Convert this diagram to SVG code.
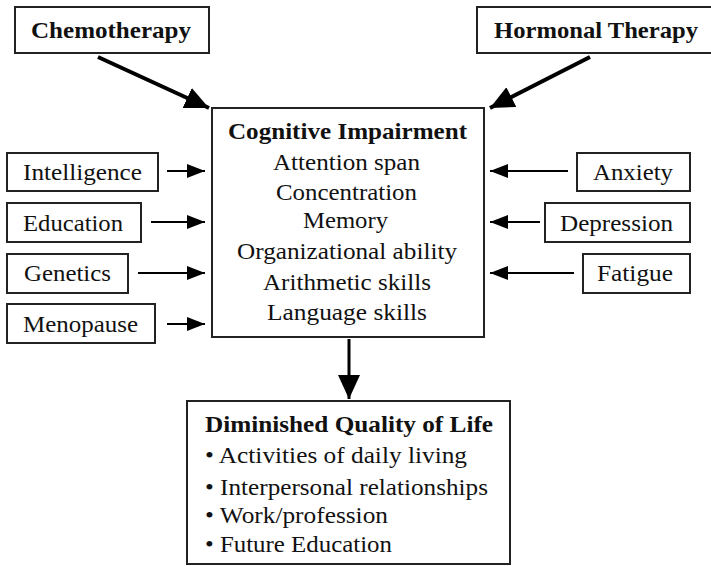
<svg xmlns="http://www.w3.org/2000/svg" width="711" height="566" viewBox="0 0 711 566">
<style>
.box{fill:#fff;stroke:#222;stroke-width:2}
text{font-family:"Liberation Serif","Times New Roman",serif;font-size:23px;fill:#111}
.b{font-weight:bold}
.c{stroke:#000;fill:none}
</style>
<defs>
<marker id="ah" markerUnits="userSpaceOnUse" markerWidth="20" markerHeight="16" refX="18" refY="7" orient="auto"><path d="M0,0 L18,7 L0,14 Z" fill="#000"/></marker>
<marker id="ahb" markerUnits="userSpaceOnUse" markerWidth="26" markerHeight="24" refX="24" refY="11" orient="auto"><path d="M0,0 L24,11 L0,22 Z" fill="#000"/></marker>
</defs>
<rect width="711" height="566" fill="#fff"/>
<g id="connectors">
<line class="c" x1="98" y1="57" x2="209" y2="108" stroke-width="4" marker-end="url(#ahb)"/>
<line class="c" x1="590" y1="57" x2="490" y2="108" stroke-width="4" marker-end="url(#ahb)"/>
<line class="c" x1="167" y1="171" x2="205" y2="171" stroke-width="2" marker-end="url(#ah)"/>
<line class="c" x1="151" y1="222" x2="205" y2="222" stroke-width="2" marker-end="url(#ah)"/>
<line class="c" x1="138" y1="273" x2="205" y2="273" stroke-width="2" marker-end="url(#ah)"/>
<line class="c" x1="167" y1="324" x2="205" y2="324" stroke-width="2" marker-end="url(#ah)"/>
<line class="c" x1="568" y1="171" x2="490" y2="171" stroke-width="2" marker-end="url(#ah)"/>
<line class="c" x1="540" y1="222" x2="490" y2="222" stroke-width="2" marker-end="url(#ah)"/>
<line class="c" x1="574" y1="273" x2="490" y2="273" stroke-width="2" marker-end="url(#ah)"/>
<line class="c" x1="349" y1="339" x2="349" y2="399" stroke-width="3" marker-end="url(#ahb)"/>
</g>
<g id="chemotherapy">
<rect class="box" x="15" y="7" width="194" height="46"/>
<text class="b" x="31" y="38" textLength="160" lengthAdjust="spacingAndGlyphs">Chemotherapy</text>
</g>
<g id="hormonal-therapy">
<rect class="box" x="477" y="7" width="240" height="46"/>
<text class="b" x="494" y="38" textLength="204" lengthAdjust="spacingAndGlyphs">Hormonal Therapy</text>
</g>
<g id="cognitive-impairment">
<rect class="box" x="212" y="108" width="272" height="229"/>
<text class="b" x="228" y="139" textLength="239" lengthAdjust="spacingAndGlyphs">Cognitive Impairment</text>
<text x="273" y="170" textLength="147" lengthAdjust="spacingAndGlyphs">Attention span</text>
<text x="276" y="200" textLength="141" lengthAdjust="spacingAndGlyphs">Concentration</text>
<text x="303" y="228" textLength="85" lengthAdjust="spacingAndGlyphs">Memory</text>
<text x="237" y="259" textLength="220" lengthAdjust="spacingAndGlyphs">Organizational ability</text>
<text x="263" y="290" textLength="168" lengthAdjust="spacingAndGlyphs">Arithmetic skills</text>
<text x="267" y="320" textLength="160" lengthAdjust="spacingAndGlyphs">Language skills</text>
</g>
<g id="intelligence">
<rect class="box" x="7" y="153" width="151" height="38"/>
<text x="23" y="180" textLength="119" lengthAdjust="spacingAndGlyphs">Intelligence</text>
</g>
<g id="education">
<rect class="box" x="7" y="203" width="134" height="39"/>
<text x="23" y="231" textLength="100" lengthAdjust="spacingAndGlyphs">Education</text>
</g>
<g id="genetics">
<rect class="box" x="7" y="254" width="121" height="39"/>
<text x="24" y="281" textLength="87" lengthAdjust="spacingAndGlyphs">Genetics</text>
</g>
<g id="menopause">
<rect class="box" x="7" y="304" width="148" height="39"/>
<text x="23" y="332" textLength="115" lengthAdjust="spacingAndGlyphs">Menopause</text>
</g>
<g id="anxiety">
<rect class="box" x="577" y="153" width="113" height="38"/>
<text x="593" y="180" textLength="80" lengthAdjust="spacingAndGlyphs">Anxiety</text>
</g>
<g id="depression">
<rect class="box" x="545" y="203" width="145" height="39"/>
<text x="560" y="231" textLength="113" lengthAdjust="spacingAndGlyphs">Depression</text>
</g>
<g id="fatigue">
<rect class="box" x="583" y="254" width="107" height="39"/>
<text x="597" y="281" textLength="76" lengthAdjust="spacingAndGlyphs">Fatigue</text>
</g>
<g id="diminished-quality-of-life">
<rect class="box" x="187" y="401" width="323" height="163"/>
<text class="b" x="205" y="432" textLength="288" lengthAdjust="spacingAndGlyphs">Diminished Quality of Life</text>
<text x="205" y="463" textLength="262" lengthAdjust="spacingAndGlyphs">• Activities of daily living</text>
<text x="205" y="495" textLength="283" lengthAdjust="spacingAndGlyphs">• Interpersonal relationships</text>
<text x="205" y="523" textLength="183" lengthAdjust="spacingAndGlyphs">• Work/profession</text>
<text x="205" y="552" textLength="187" lengthAdjust="spacingAndGlyphs">• Future Education</text>
</g>
</svg>
